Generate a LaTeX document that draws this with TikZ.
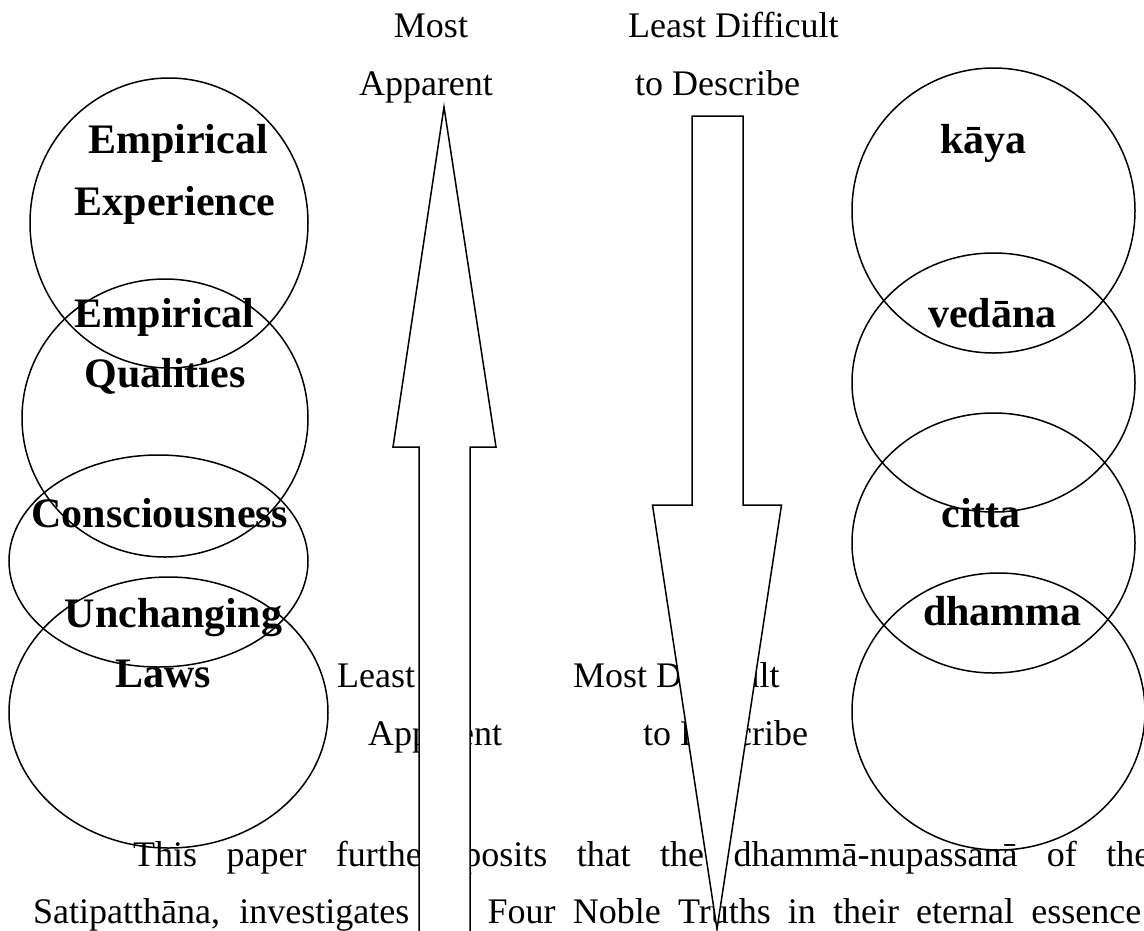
\documentclass[tikz,border=0pt]{standalone}
\usepackage{fontspec}
\setmainfont{Liberation Serif}
\usetikzlibrary{shapes.geometric}
\tikzset{
  lbl/.style={font=\fontsize{36}{43}\selectfont, inner sep=0pt, anchor=base},
  bl/.style={font=\fontsize{42}{50}\selectfont\bfseries, inner sep=0pt, anchor=base},
  body/.style={font=\fontsize{36}{43}\selectfont, inner sep=0pt, anchor=base west},
  ring/.style={draw=black, line width=1.5pt, ellipse, inner sep=0pt},
  bigarrow/.style={draw=black, fill=white, line width=1.5pt, line join=miter}
}
\begin{document}
\begin{tikzpicture}[x=1pt,y=-1pt]
\useasboundingbox (0,0) rectangle (1144,930);
\fill[white] (0,0) rectangle (1144,930);
\clip (0,0) rectangle (1144,930);

% plain labels
\node[lbl] (most) at (431,37) {Most};
\node[lbl] (app) at (426,95) {Apparent};
\node[lbl, anchor=base west] (ldiff) at (628,37) {Least Difficult};
\node[lbl, anchor=base west] (todesc) at (635,95) {to Describe};
\node[lbl, anchor=base west] (least) at (337,687) {Least};
\node[lbl, anchor=base west] (app2) at (368,745) {Apparent};
\node[lbl, anchor=base west] (mdiff) at (573,687) {Most Difficult};
\node[lbl, anchor=base west] (todesc2) at (643,745) {to Describe};

% body text
\node[body] (line1) at (133,866) {\makebox[1017pt][s]{This paper further posits that the dhammā-nupassanā of the}};
\node[body] (line2) at (33,923) {\makebox[1108pt][s]{Satipatthāna, investigates the Four Noble Truths in their eternal essence}};

% arrows
\draw[bigarrow] (444,107) -- (496,447) -- (470,447) -- (470,945) -- (419,945) -- (419,447) -- (393,447) -- cycle;
\draw[bigarrow] (692,116) -- (743,116) -- (743,505) -- (781.5,505) -- (717,929) -- (652.5,505) -- (692,505) -- cycle;

% left circles
\node[ring, minimum width=278pt, minimum height=290pt] (L1) at (169,223) {};
\node[ring, minimum width=286pt, minimum height=278pt] (L2) at (165,418) {};
\node[ring, minimum width=299pt, minimum height=212pt] (L3) at (158.5,561) {};
\node[ring, minimum width=319pt, minimum height=271pt] (L4) at (168.5,712.5) {};

% right circles
\node[ring, minimum width=283pt, minimum height=285pt] (R1) at (993.5,210.5) {};
\node[ring, minimum width=283pt, minimum height=259pt] (R2) at (993.5,382.5) {};
\node[ring, minimum width=283pt, minimum height=260pt] (R3) at (993.5,543) {};
\node[ring, minimum width=293pt, minimum height=277pt] (R4) at (998.5,711.5) {};

% bold labels
\node[bl] (emp1) at (178,153) {Empirical};
\node[bl] (exper) at (175,215) {Experience};
\node[bl] (emp2) at (164.5,327) {Empirical};
\node[bl] (qual) at (165,387) {Qualities};
\node[bl] (cons) at (160,527) {Consciousness};
\node[bl] (unch) at (173.5,627) {Unchanging};
\node[bl] (laws) at (163.5,687) {Laws};
\node[bl] (kaya) at (983.5,153) {kāya};
\node[bl] (vedana) at (992.5,327) {vedāna};
\node[bl] (citta) at (981,527) {citta};
\node[bl] (dhamma) at (1002.5,625) {dhamma};
\end{tikzpicture}
\end{document}
